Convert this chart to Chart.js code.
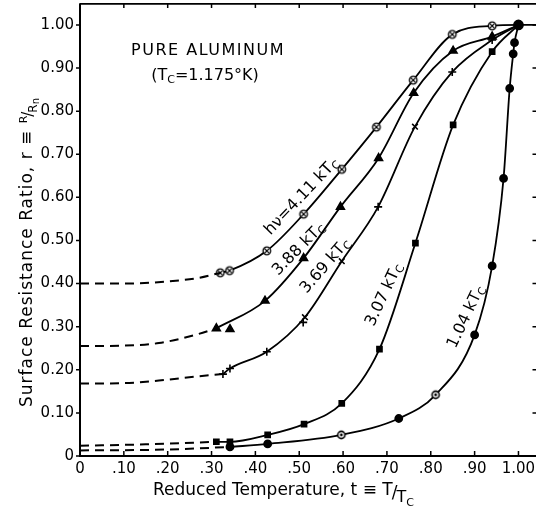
<!DOCTYPE html>
<html><head><meta charset="utf-8">
<script src="https://cdn.jsdelivr.net/npm/chart.js@4"></script>
<style>html,body{margin:0;padding:0;background:#fff}canvas{display:block}</style>
</head><body>
<canvas id="c" width="536" height="507"></canvas>
<script>
// ---- tick values / labels ----
const xTickValues = [0,0.1,0.2,0.3,0.4,0.5,0.6,0.7,0.8,0.9,1.0];
const xTickLabels = ['0','.10','.20','.30','.40','.50','.60','.70','.80','.90','1.00'];
const yTickValues = [0,0.1,0.2,0.3,0.4,0.5,0.6,0.7,0.8,0.9,1.0];
const yTickLabels = ['0','0.10','0.20','0.30','0.40','0.50','0.60','0.70','0.80','0.90','1.00'];

// ---- measured series (t = T/Tc, r = R/Rn) ----
// hv = 4.11 kTc
const t411 = [0.320,0.341,0.426,0.510,0.597,0.676,0.760,0.849,0.940,1.000,1.040];
const r411 = [0.425,0.430,0.476,0.561,0.665,0.763,0.872,0.978,0.998,1.000,1.000];
const t411d = [0,0.10,0.20,0.27,0.320];
const r411d = [0.400,0.400,0.405,0.413,0.425];
// 3.88 kTc
const t388 = [0.311,0.422,0.510,0.594,0.681,0.761,0.851,0.940,1.000];
const r388 = [0.296,0.360,0.459,0.578,0.691,0.842,0.940,0.973,1.000];
const t388x = [0.342];           // off-curve point
const r388x = [0.294];
const t388d = [0,0.10,0.18,0.27,0.311];
const r388d = [0.255,0.256,0.262,0.283,0.296];
// 3.69 kTc
const t369 = [0.326,0.342,0.426,0.513,0.597,0.680,0.764,0.849,0.940,1.000];
const r369 = [0.190,0.203,0.242,0.322,0.452,0.578,0.764,0.891,0.965,1.000];
const t369x = [0.509];           // off-curve point
const r369x = [0.310];
const t369d = [0,0.10,0.18,0.27,0.326];
const r369d = [0.168,0.169,0.175,0.185,0.190];
// 3.07 kTc
const t307 = [0.311,0.342,0.428,0.511,0.597,0.683,0.765,0.851,0.940,1.000];
const r307 = [0.033,0.033,0.049,0.074,0.122,0.248,0.494,0.768,0.938,1.000];
const t307d = [0,0.15,0.311];
const r307d = [0.024,0.027,0.033];
// 1.04 kTc
const t104 = [0.342,0.428,0.596,0.727,0.811,0.900,0.940,0.966,0.980,0.988,0.991,1.000];
const r104 = [0.021,0.028,0.049,0.087,0.142,0.281,0.441,0.644,0.853,0.933,0.959,1.000];
const t104d = [0,0.20,0.342];
const r104d = [0.013,0.015,0.021];

// curve labels (anchor in data coords, angle in screen degrees)
const curveLabels = [
  {main:'hν=4.11 kT', t:0.506, r:0.602, angle:-46.5},
  {main:'3.88 kT', t:0.499, r:0.480, angle:-45.6},
  {main:'3.69 kT', t:0.560, r:0.441, angle:-49},
  {main:'3.07 kT', t:0.694, r:0.374, angle:-65},
  {main:'1.04 kT', t:0.881, r:0.323, angle:-64.6}
];

const FONT = 'DejaVu Sans';

function pts(t, r){ return t.map((v,i)=>({x:v, y:r[i]})); }

function marker(kind){
  const s = 12, c = document.createElement('canvas');
  c.width = s; c.height = s;
  const g = c.getContext('2d'); const m = s/2;
  g.strokeStyle = '#000'; g.fillStyle = '#000';
  if (kind === 'circX'){
    g.lineWidth = 1.3;
    g.beginPath(); g.arc(m,m,3.8,0,Math.PI*2); g.fillStyle='#fff'; g.fill(); g.stroke();
    g.beginPath(); g.moveTo(m-2.4,m-2.4); g.lineTo(m+2.4,m+2.4); g.moveTo(m+2.4,m-2.4); g.lineTo(m-2.4,m+2.4); g.stroke();
  } else if (kind === 'circDot'){
    g.lineWidth = 1.6;
    g.beginPath(); g.arc(m,m,3.6,0,Math.PI*2); g.fillStyle='#fff'; g.fill(); g.stroke();
    g.fillStyle='#000'; g.beginPath(); g.arc(m,m,1.4,0,Math.PI*2); g.fill();
  }
  return c;
}
const mCircX = marker('circX');
const mCircDot = marker('circDot');

function solid(t, r, style, radius){
  return {
    data: pts(t, r), borderColor:'#000', borderWidth:1.8, backgroundColor:'#000',
    pointBackgroundColor:'#000', pointBorderColor:'#000', pointBorderWidth:1.6,
    cubicInterpolationMode:'monotone', pointStyle: style, pointRadius: radius, fill:false
  };
}
function markersOnly(t, r, style, radius){
  return {
    data: pts(t, r), showLine:false, borderColor:'#000', backgroundColor:'#000',
    pointBackgroundColor:'#000', pointBorderColor:'#000', pointBorderWidth:1.6,
    pointStyle: style, pointRadius: radius
  };
}
function dashed(t, r){
  return {
    data: pts(t, r), borderColor:'#000', borderWidth:2, borderDash:[9,6],
    pointRadius:0, cubicInterpolationMode:'monotone', fill:false
  };
}

const datasets = [
  dashed(t411d, r411d), dashed(t388d, r388d), dashed(t369d, r369d), dashed(t307d, r307d), dashed(t104d, r104d),
  solid(t411, r411, mCircX, t411.map((v,i)=> i < t411.length-2 ? 4 : 0)),
  solid(t388, r388, 'triangle', t388.map((v,i)=> i < t388.length-1 ? 4.5 : 0)),
  markersOnly(t388x, r388x, 'triangle', 4.5),
  solid(t369, r369, ['cross','cross','cross','crossRot','crossRot','cross','crossRot','cross','cross','cross'],
        t369.map((v,i)=> i < t369.length-1 ? 4 : 0)),
  markersOnly(t369x, r369x, 'cross', 4),
  solid(t307, r307, 'rect', t307.map((v,i)=> i < t307.length-1 ? 3.6 : 0)),
  solid(t104, r104, ['circle','circle',mCircDot,'circle',mCircDot,'circle','circle','circle','circle','circle','circle','circle'],
        t104.map((v,i)=> i < t104.length-1 ? 3.6 : 4.6))
];

function drawRich(ctx, parts, x, y, angle){
  ctx.save();
  ctx.translate(x, y);
  ctx.rotate(angle*Math.PI/180);
  let w = 0;
  parts.forEach(p=>{ ctx.font = p.size+'px "'+FONT+'"'; p.w = ctx.measureText(p.text).width; w += p.w; });
  let cx = -w/2;
  ctx.textBaseline = 'middle'; ctx.textAlign = 'left'; ctx.fillStyle = '#000';
  parts.forEach(p=>{ ctx.font = p.size+'px "'+FONT+'"'; ctx.fillText(p.text, cx, p.dy||0); cx += p.w; });
  ctx.restore();
}

const framePlugin = {
  id:'frame',
  afterDraw(chart){
    const ctx = chart.ctx, a = chart.chartArea, xs = chart.scales.x, ys = chart.scales.y;
    ctx.save();
    ctx.strokeStyle = '#000';
    // axes lines
    ctx.lineWidth = 2;
    ctx.beginPath();
    ctx.moveTo(a.left, a.top); ctx.lineTo(a.left, a.bottom); ctx.lineTo(a.right, a.bottom);
    ctx.stroke();
    ctx.lineWidth = 1.6;
    ctx.beginPath(); ctx.moveTo(a.left, a.top+0.5); ctx.lineTo(a.right, a.top+0.5); ctx.stroke();
    // ticks
    ctx.lineWidth = 1.5;
    ctx.beginPath();
    xTickValues.forEach(v=>{
      const px = xs.getPixelForValue(v);
      if (v>0){ ctx.moveTo(px, a.bottom); ctx.lineTo(px, a.bottom-5); }
      ctx.moveTo(px, a.top); ctx.lineTo(px, a.top+4.5);
    });
    yTickValues.forEach(v=>{
      const py = ys.getPixelForValue(v);
      ctx.moveTo(a.left-4, py); ctx.lineTo(a.left, py);
      ctx.moveTo(a.right-3.5, py); ctx.lineTo(a.right, py);
    });
    ctx.stroke();

    // curve labels
    curveLabels.forEach(l=>{
      drawRich(ctx, [{text:l.main, size:16, dy:0},{text:'C', size:11, dy:4}],
        xs.getPixelForValue(l.t), ys.getPixelForValue(l.r), l.angle);
    });

    // inset title
    ctx.fillStyle = '#000';
    ctx.textAlign = 'center'; ctx.textBaseline = 'middle';
    ctx.font = '16px "'+FONT+'"';
    try { ctx.letterSpacing = '1.5px'; } catch(e){}
    ctx.fillText('PURE ALUMINUM', 208, 51);
    try { ctx.letterSpacing = '0px'; } catch(e){}
    drawRich(ctx, [{text:'(T',size:16,dy:0},{text:'C',size:11,dy:4},{text:'=1.175°K)',size:16,dy:0}], 205, 76, 0);

    // x axis title
    ctx.textAlign = 'left'; ctx.textBaseline = 'alphabetic';
    ctx.font = '17px "'+FONT+'"';
    let x0 = 153;
    const xt = 'Reduced Temperature, t ≡ ';
    ctx.fillText(xt, x0, 495); x0 += ctx.measureText(xt).width;
    ctx.fillText('T', x0, 495); x0 += ctx.measureText('T').width - 1;
    ctx.fillText('/', x0, 498); x0 += ctx.measureText('/').width - 1;
    ctx.font = '16px "'+FONT+'"';
    ctx.fillText('T', x0, 502); x0 += ctx.measureText('T').width;
    ctx.font = '11px "'+FONT+'"';
    ctx.fillText('C', x0, 506);

    // y axis title (rotated)
    ctx.save();
    ctx.translate(32, 407);
    ctx.rotate(-Math.PI/2);
    ctx.textAlign = 'left'; ctx.textBaseline = 'alphabetic';
    ctx.font = '17px "'+FONT+'"';
    try { ctx.letterSpacing = '1px'; } catch(e){}
    const yt = 'Surface Resistance Ratio, r ≡ ';
    ctx.fillText(yt, 0, 0);
    let y0 = ctx.measureText(yt).width;
    try { ctx.letterSpacing = '0px'; } catch(e){}
    ctx.font = '11px "'+FONT+'"'; ctx.fillText('R', y0, -5); y0 += ctx.measureText('R').width - 1;
    ctx.font = '15px "'+FONT+'"'; ctx.fillText('/', y0, 1); y0 += ctx.measureText('/').width - 1;
    ctx.font = '12px "'+FONT+'"'; ctx.fillText('R', y0, 5); y0 += ctx.measureText('R').width;
    ctx.font = '10px "'+FONT+'"'; ctx.fillText('n', y0, 7);
    ctx.restore();
    ctx.restore();
  }
};

function lab(vals, labels, v){
  for (let i=0;i<vals.length;i++) if (Math.abs(vals[i]-v) < 1e-6) return labels[i];
  return '';
}

new Chart(document.getElementById('c').getContext('2d'), {
  type:'line',
  data:{datasets},
  options:{
    responsive:false, animation:false, devicePixelRatio:1, events:[],
    layout:{autoPadding:false, padding:{left:0,right:0,top:3.4,bottom:0}},
    plugins:{legend:{display:false}, tooltip:{enabled:false}, title:{display:false}},
    scales:{
      x:{
        type:'linear', min:0, max:1.04,
        afterBuildTicks:(s)=>{ s.ticks = xTickValues.map(v=>({value:v})); },
        afterFit:(s)=>{ s.height = 51; s.paddingLeft = 0; s.paddingRight = 0; },
        ticks:{ callback:(v)=>lab(xTickValues, xTickLabels, v), color:'#000', padding:4,
                font:{family:FONT, size:15}, maxRotation:0, autoSkip:false },
        grid:{display:false, drawTicks:false}, border:{display:false}
      },
      y:{
        type:'linear', min:0, max:1.05,
        afterBuildTicks:(s)=>{ s.ticks = yTickValues.map(v=>({value:v})); },
        afterFit:(s)=>{ s.width = 80; s.paddingTop = 0; s.paddingBottom = 0; },
        ticks:{ callback:(v)=>lab(yTickValues, yTickLabels, v), color:'#000', padding:6,
                font:{family:FONT, size:15}, autoSkip:false },
        grid:{display:false, drawTicks:false}, border:{display:false}
      }
    }
  },
  plugins:[framePlugin]
});
</script>
</body></html>
